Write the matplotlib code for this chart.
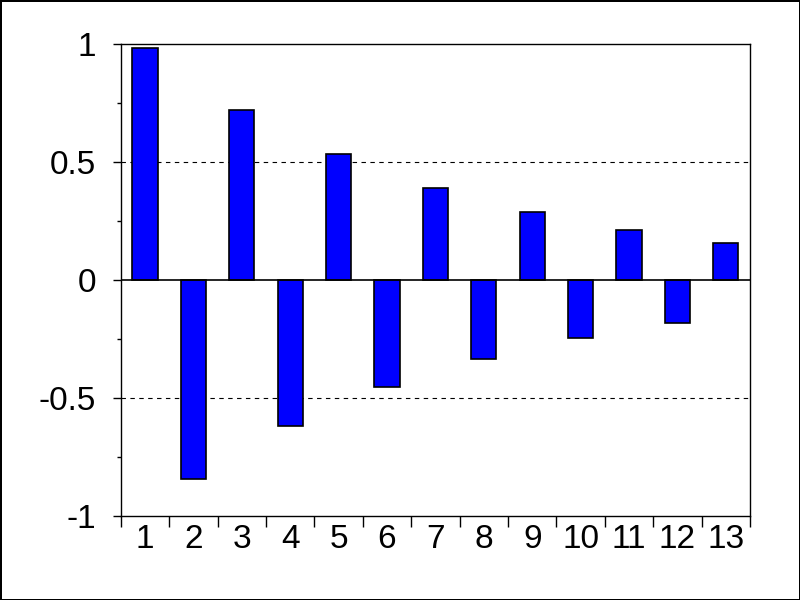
import numpy as np
import matplotlib.pyplot as plt
from matplotlib.ticker import FixedLocator, NullFormatter, FixedFormatter

# lag numbers and values
lags = [1, 2, 3, 4, 5, 6, 7, 8, 9, 10, 11, 12, 13]
values = [0.983, -0.843, 0.720, -0.619, 0.534, -0.453, 0.390,
          -0.335, 0.288, -0.246, 0.212, -0.182, 0.157]
ytick_vals = [-1, -0.5, 0, 0.5, 1]
ytick_labels = ["-1", "-0.5", "0", "0.5", "1"]

plt.rcParams['font.family'] = ['Liberation Sans', 'DejaVu Sans']

fig = plt.figure(figsize=(8, 6), dpi=100)
fig.patch.set_edgecolor("black")
fig.patch.set_linewidth(2)
ax = fig.add_axes([0.151, 0.14, 0.7865, 0.7867])

ax.bar(lags, values, width=0.52, color="#0000ff", edgecolor="black",
       linewidth=1.2, zorder=3)

# grid lines and zero line
for g in [0.5, -0.5]:
    ax.axhline(g, color="black", linestyle=(0, (4, 4)), linewidth=0.8, zorder=1)
ax.axhline(0, color="black", linewidth=1.2, zorder=4)

ax.set_xlim(0.5, 13.5)
ax.set_ylim(-1, 1)

# y ticks
ax.set_yticks(ytick_vals)
ax.set_yticklabels(ytick_labels)
ax.yaxis.set_minor_locator(FixedLocator([-0.75, -0.25, 0.25, 0.75]))
ax.tick_params(axis="y", which="major", length=6, width=1, labelsize=24, pad=12)
ax.tick_params(axis="y", which="minor", length=3, width=1)

# x ticks: marks at boundaries, labels at centres
bounds = [l - 0.5 for l in lags] + [lags[-1] + 0.5]
ax.xaxis.set_major_locator(FixedLocator(bounds))
ax.xaxis.set_major_formatter(NullFormatter())
ax.xaxis.set_minor_locator(FixedLocator(lags))
ax.xaxis.set_minor_formatter(FixedFormatter([str(l) for l in lags]))
ax.tick_params(axis="x", which="major", length=8, width=1)
ax.tick_params(axis="x", which="minor", length=0, labelsize=24, pad=6)

for s in ax.spines.values():
    s.set_linewidth(1)

fig.savefig("out.png", dpi=100, edgecolor=fig.get_edgecolor())
